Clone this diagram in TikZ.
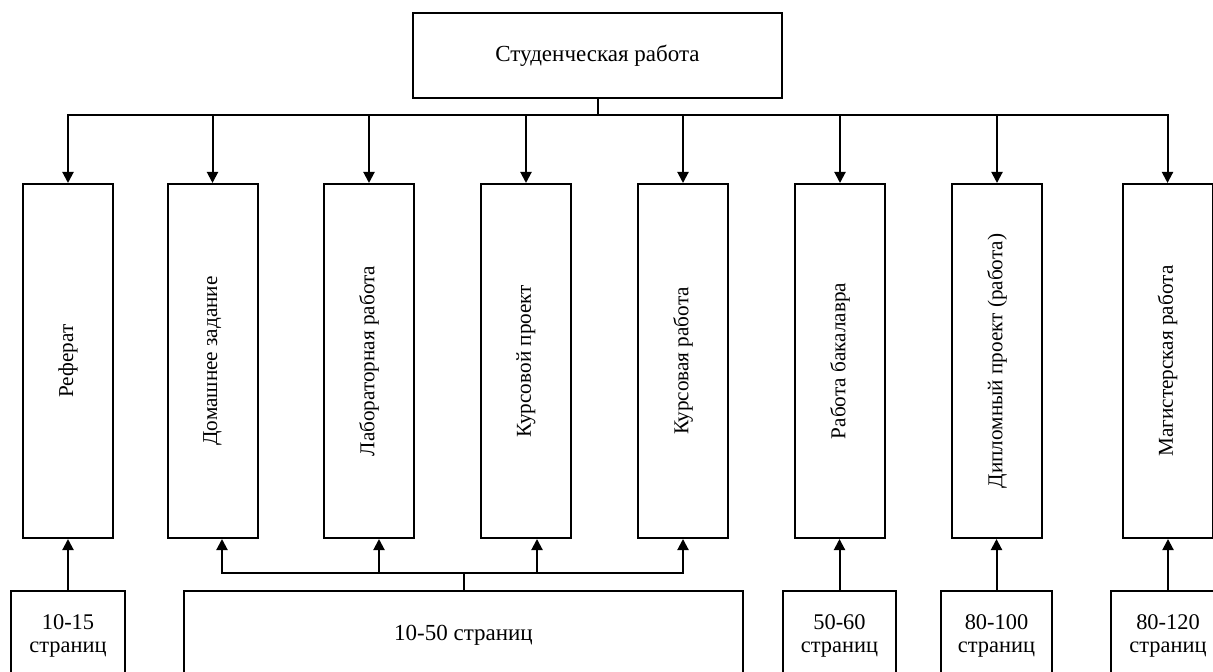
\documentclass[tikz,border=0pt]{standalone}
\usepackage{fontspec}
\setmainfont{Liberation Serif}
\usetikzlibrary{arrows.meta}
\begin{document}
\begin{tikzpicture}[x=0.5pt,y=-0.5pt,line width=1pt,
  box/.style={draw,line width=1pt,inner sep=0pt,align=center,font=\fontsize{11.5}{11.5}\selectfont},
  small/.style={box,font=\fontsize{11.2}{11.5}\selectfont},
  tall/.style={box,minimum width=45pt,minimum height=177pt,font=\fontsize{10.6}{12}\selectfont},
  arr/.style={-{Triangle[length=5.5pt,width=5.5pt]}}]
\useasboundingbox (0,0) rectangle (1213,672);
\clip (0,0) rectangle (1213,672);
% top
\node[box,minimum width=184.5pt,minimum height=42.5pt] (top) at (597.5,55.5) {Студенческая работа};
\coordinate (tb) at (597.5,115);
% tall boxes
\node[tall] (r1) at (68,361) {\rotatebox{90}{Реферат}};
\node[tall] (r2) at (212.5,361) {\rotatebox{90}{Домашнее задание}};
\node[tall] (r3) at (369,361) {\rotatebox{90}{Лабораторная работа}};
\node[tall] (r4) at (526,361) {\rotatebox{90}{Курсовой проект}};
\node[tall] (r5) at (683,361) {\rotatebox{90}{Курсовая работа}};
\node[tall] (r6) at (840,361) {\rotatebox{90}{Работа бакалавра}};
\node[tall] (r7) at (997,361) {\rotatebox{90}{Дипломный проект (работа)}};
\node[tall] (r8) at (1167.5,361) {\rotatebox{90}{Магистерская работа}};
\draw (top.south) -- (tb);
\foreach \n in {r1,r2,r3,r4,r5,r6,r7,r8}
  \draw[arr] (tb) -| (\n.north);
% bottom boxes
\node[small,minimum width=57pt,minimum height=44.5pt] (b1) at (68,635.5) {10-15\\страниц};
\node[box,minimum width=279.5pt,minimum height=44.5pt] (b2) at (463.5,635.5) {10-50 страниц};
\node[small,minimum width=56.5pt,minimum height=44.5pt] (b6) at (839.5,635.5) {50-60\\страниц};
\node[small,minimum width=55.5pt,minimum height=44.5pt] (b7) at (996.5,635.5) {80-100\\страниц};
\node[small,minimum width=57pt,minimum height=44.5pt] (b8) at (1168,635.5) {80-120\\страниц};
\coordinate (bb) at (463.5,573);
\draw (b2.north) -- (bb);
\draw[arr] (bb) -| ([xshift=4.75pt]r2.south);
\draw[arr] (bb) -| ([xshift=5pt]r3.south);
\draw[arr] (bb) -| ([xshift=5.5pt]r4.south);
\draw[arr] (bb) -| (r5.south);
\draw[arr] (b1.north) -- (b1.north |- r1.south);
\draw[arr] (b6.north) -- (b6.north |- r6.south);
\draw[arr] (b7.north) -- (b7.north |- r7.south);
\draw[arr] (b8.north) -- (b8.north |- r8.south);
\end{tikzpicture}
\end{document}
